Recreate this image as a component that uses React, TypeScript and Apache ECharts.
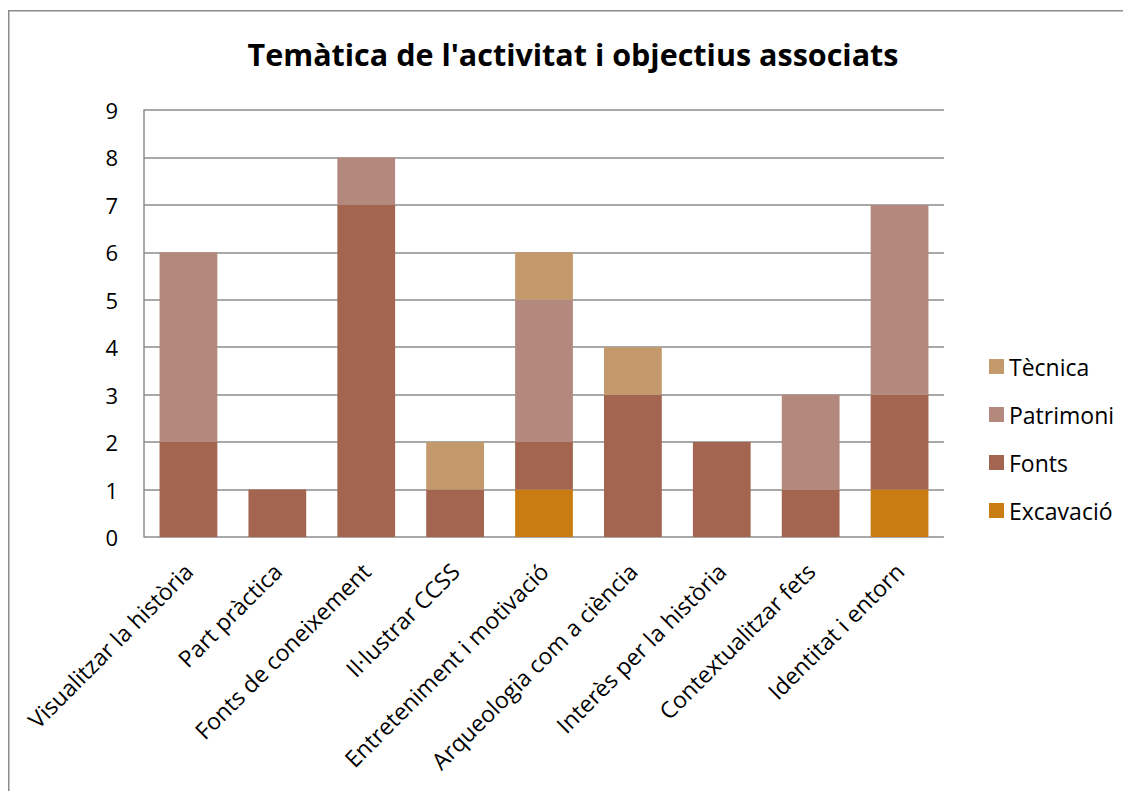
import React, { useEffect, useRef } from "react";
import * as echarts from "echarts";

const categories = [
  "Visualitzar la història",
  "Part pràctica",
  "Fonts de coneixement",
  "Il·lustrar CCSS",
  "Entreteniment i motivació",
  "Arqueologia com a ciència",
  "Interès per la història",
  "Contextualitzar fets",
  "Identitat i entorn",
];
const excavacio = [0, 0, 0, 0, 1, 0, 0, 0, 1];
const fonts = [2, 1, 7, 1, 1, 3, 2, 1, 2];
const patrimoni = [4, 0, 1, 0, 3, 0, 0, 2, 4];
const tecnica = [0, 0, 0, 1, 1, 1, 0, 0, 0];
const legendOrder = ["Tècnica", "Patrimoni", "Fonts", "Excavació"];

const FONT = "'Open Sans', sans-serif";

export default function App() {
  const ref = useRef<HTMLDivElement>(null);
  useEffect(() => {
    if (!ref.current) return;
    const chart = echarts.init(ref.current, undefined, { renderer: "svg" });
    const mk = (name: string, data: number[], color: string) => ({
      name,
      type: "bar",
      stack: "total",
      data: data.map((v) => (v === 0 ? null : v)),
      barCategoryGap: "35%",
      itemStyle: { color },
    });
    chart.setOption({
      animation: false,
      textStyle: { fontFamily: FONT },
      title: {
        text: "Temàtica de l'activitat i objectius associats",
        left: 560,
        top: 25,
        textAlign: "center",
        textStyle: { fontFamily: FONT, fontSize: 30.5, fontWeight: "bold", color: "#000" },
      },
      graphic: [
        {
          type: "rect",
          shape: { x: 0.75, y: 2.75, width: 1300, height: 1000 },
          style: { fill: "none", stroke: "#8c8c8c", lineWidth: 1.5 },
          silent: true,
        },
      ],
      legend: {
        orient: "vertical",
        left: 976,
        top: 342,
        itemWidth: 15,
        itemHeight: 15,
        itemGap: 25,
        icon: "rect",
        data: legendOrder,
        textStyle: { fontFamily: FONT, fontSize: 23, color: "#000" },
      },
      grid: { left: 136, top: 102, right: 187, bottom: 254, containLabel: false },
      xAxis: {
        type: "category",
        data: categories,
        axisLine: { show: false },
        axisTick: { show: false },
        axisLabel: {
          interval: 0,
          rotate: 45,
          fontSize: 23,
          color: "#000",
          fontFamily: FONT,
          margin: 30,
        },
      },
      yAxis: {
        type: "value",
        min: 0,
        max: 9,
        interval: 1,
        axisLine: { show: true, lineStyle: { color: "#8c8c8c", width: 1.5 } },
        axisTick: { show: false },
        splitLine: { lineStyle: { color: "#8c8c8c", width: 1.5 } },
        axisLabel: { fontSize: 22, color: "#000", fontFamily: FONT, margin: 26 },
      },
      series: [
        mk("Excavació", excavacio, "#C97C12"),
        mk("Fonts", fonts, "#A3654F"),
        mk("Patrimoni", patrimoni, "#B3897D"),
        mk("Tècnica", tecnica, "#C49A6C"),
      ],
    });
    return () => chart.dispose();
  }, []);
  return <div ref={ref} style={{ width: 1123, height: 783 }} />;
}
